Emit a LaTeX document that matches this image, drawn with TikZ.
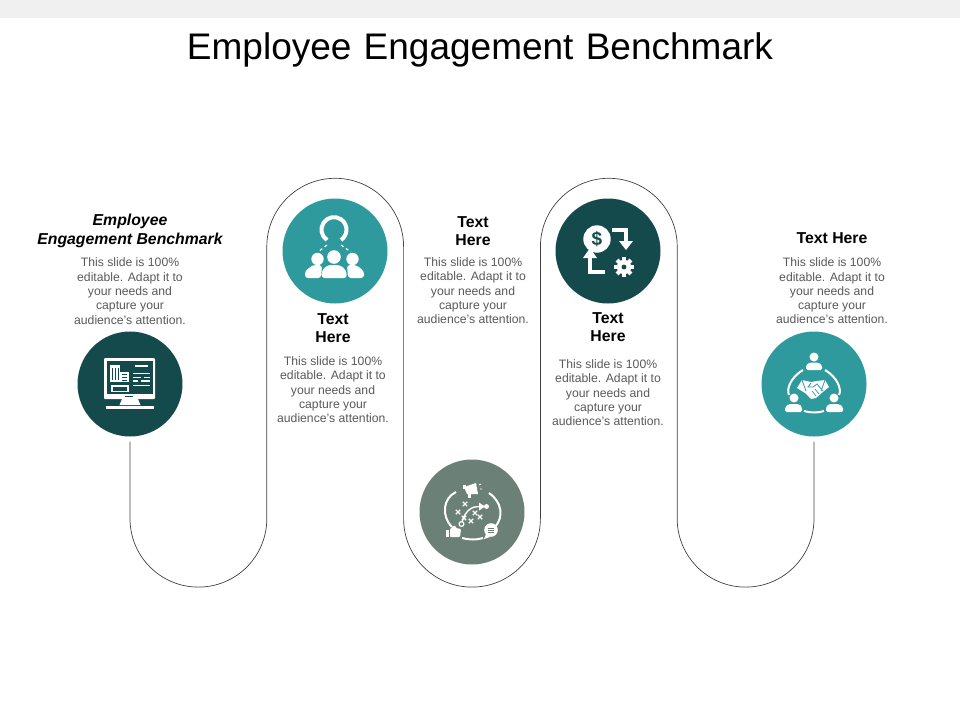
\documentclass[tikz,border=0pt]{standalone}
\usepackage{fontspec}
\setmainfont{Liberation Sans}
\usetikzlibrary{positioning}
\definecolor{darkci}{HTML}{154A4C}
\definecolor{tealci}{HTML}{2E9A9E}
\definecolor{greyci}{HTML}{6B8178}
\definecolor{bodygrey}{HTML}{595959}
\tikzset{
  node distance=14pt,
  every node/.style={align=center}
}
\newcommand{\blurb}{This slide is 100\%\\editable. Adapt it to\\your needs and\\capture your\\audience's attention.}

\begin{document}
\begin{tikzpicture}[x=1pt, y=-1pt]
\tikzstyle{ci}=[circle, minimum size=105pt, inner sep=0pt]
\tikzstyle{dark_ci}=[ci, fill=darkci]
\tikzstyle{teal_ci}=[ci, fill=tealci]
\tikzstyle{grey_ci}=[ci, fill=greyci]
\tikzstyle{track}=[draw=black!75, line width=0.7pt]
\tikzstyle{title}=[font=\fontsize{37pt}{40pt}\selectfont, text=black, inner sep=0pt]
\tikzstyle{heading}=[font=\fontsize{15.8pt}{18.4pt}\selectfont\bfseries, text=black, inner sep=0pt]
\tikzstyle{blurbtxt}=[font=\fontsize{12.2pt}{14.3pt}\selectfont, text=bodygrey, inner sep=0pt]
\tikzstyle{wline}=[draw=white, line width=1.6pt]
\tikzstyle{wring}=[draw=white, line width=2pt]
\tikzstyle{wfill}=[fill=white]

\useasboundingbox (0,0) rectangle (960,720);
\fill[black!6] (0,0) rectangle (960,18);
\node[title](title) at (480,50){Employee\hspace{2pt} Engagement\hspace{2pt} Benchmark};

% circles
\node[dark_ci](ci1) at (130,384){};
\node[teal_ci](ci2) at (335,251){};
\node[grey_ci](ci3) at (472,512){};
\node[dark_ci](ci4) at (608,251){};
\node[teal_ci](ci5) at (814,384){};

% the winding line
\draw[track] ([yshift=-5pt]ci1.south) -- ++(0,77)
  arc[start angle=180, end angle=0, radius=68.4] -- ++(0,-272)
  arc[start angle=180, end angle=360, radius=68.4] -- ++(0,272)
  arc[start angle=180, end angle=0, radius=68.4] -- ++(0,-272)
  arc[start angle=180, end angle=360, radius=68.4] -- ++(0,272)
  arc[start angle=180, end angle=0, radius=68.4] -- ([yshift=-5pt]ci5.south);

% texts
\node[heading, font=\fontsize{15.8pt}{18.4pt}\selectfont\bfseries\itshape](head1) at (130,231){Employee\\Engagement Benchmark};
\node[blurbtxt, below=10pt of head1](txt1){\blurb};
\node[heading](head2) at (333,328){Text\\Here};
\node[blurbtxt, below=13.5pt of head2](txt2){\blurb};
\node[heading](head3) at (473,231){Text\\Here};
\node[blurbtxt, below=11.5pt of head3](txt3){\blurb};
\node[heading](head4) at (608,327){Text\\Here};
\node[blurbtxt, below=17.5pt of head4](txt4){\blurb};
\node[heading](head5) at (832,238){Text Here};
\node[blurbtxt, below=14pt of head5](txt5){\blurb};

% monitor
\begin{scope}[shift={(ci1.center)}]
\fill[wfill, rounded corners=1pt] (-26,-26) rectangle (25,15);
\fill[darkci] (-23.5,-23.5) rectangle (22.5,10);
\fill[darkci] (-5,11.5) rectangle (3,13);
\fill[wfill] (-8,15) -- (8,15) -- (10.5,21) -- (-10.5,21) -- cycle;
\fill[wfill] (-24,21.5) rectangle (23.5,25);
\fill[wfill] (-20,-19) rectangle (-10.5,-2);
\fill[wfill] (-10,-12) rectangle (-1,-2);
\foreach \x in {-18,-15,-12.5}{\fill[darkci] (\x,-16) rectangle ++(1,12);}
\foreach \y in {-10,-7,-4.5}{\fill[darkci] (-8,\y) rectangle ++(5,1);}
\draw[wline] (-18,2) rectangle (-2,7.5);
\draw[wline] (5,-18) -- (18,-18);
\draw[wline] (3,-10.5) -- (20,-10.5);
\draw[wline] (3,-6.5) -- (11,-6.5) (14,-6.5) -- (20,-6.5);
\draw[wline] (3,-3) -- (8,-3) (11,-3) -- (20,-3);
\draw[wline] (3,1.5) -- (20,1.5);
\end{scope}

% people under a magnet
\begin{scope}[shift={(ci2.center)}]
\draw[white, line width=4pt] (-8,-11) arc[start angle=124, end angle=416, radius=12.5];
\draw[white, line width=1.2pt, dashed] (-8,-6) -- (-17,1);
\draw[white, line width=1.2pt, dashed] (6,-6) -- (16,1);
\fill[wfill] (-17.5,8) circle[radius=6.2];
\fill[wfill] (17.5,8) circle[radius=6.2];
\fill[wfill] (-1,6) circle[radius=6.8];
\fill[wfill, rounded corners=3pt] (-30,27) -- (-30,20) -- (-22,14) -- (-13,14) -- (-14,27) -- cycle;
\fill[wfill, rounded corners=3pt] (29,27) -- (29,20) -- (21,14) -- (12,14) -- (13,27) -- cycle;
\fill[wfill, rounded corners=3pt] (-13.5,27) -- (-13,19) -- (-7,14) -- (5,14) -- (11,19) -- (12,27) -- cycle;
\end{scope}

% plan with thumb and speech bubble
\begin{scope}[shift={(ci3.center)}]
\draw[wring] (-20,15) .. controls (-31,4) and (-29,-14) .. (-16,-20);
\draw[wring] (17,-19) .. controls (30,-10) and (32,5) .. (23,15);
\draw[wring] (-10,26) .. controls (-3,28) and (5,28) .. (11,26);
\fill[wfill] (-8,-25) -- (4,-29) -- (6,-18) -- (-5,-18) -- cycle;
\fill[wfill] (-9,-27) rectangle (-6,-23);
\fill[wfill] (-4,-18) rectangle (-1,-14);
\draw[white, line width=0.8pt] (7,-27) -- (9,-28) (8,-23) -- (10,-23);
\draw[white, line width=1.4pt] (-10,10) .. controls (-7,-1) and (0,-6) .. (7,-5.5);
\fill[wfill] (7,-9.5) -- (13,-5.5) -- (7,-1.5) -- cycle;
\draw[white, line width=1.2pt] (-10.5,12) circle[radius=2.4];
\fill[wfill] (14.5,-5.5) circle[radius=2.5];
\foreach \x/\y in {-7/-8, -14/0, -8/6, -1/9, 8/5, 3/1}{
  \draw[white, line width=1.2pt] (\x-2.2,\y-2.2) -- (\x+2.2,\y+2.2) (\x-2.2,\y+2.2) -- (\x+2.2,\y-2.2);
}
\fill[wfill] (-26,18) rectangle (-23,25);
\fill[wfill, rounded corners=1pt] (-22,25) -- (-22,17) -- (-17,13) -- (-16,16) -- (-11,17) -- (-12,25) -- cycle;
\fill[wfill] (19,18) circle[radius=6.8];
\fill[wfill] (14,22) -- (12,27) -- (18,25) -- cycle;
\foreach \y in {16,18,20}{\draw[greyci, line width=0.7pt] (16,\y) -- (22,\y);}
\end{scope}

% money and process
\begin{scope}[shift={(ci4.center)}]
\fill[wfill] (-11,-12) circle[radius=13.7];
\node[font=\fontsize{19pt}{19pt}\selectfont\bfseries, text=darkci, inner sep=0pt](dollar) at (-11,-12){\$};
\draw[white, line width=3.2pt] (4,-21) -- (18,-21) -- (18,-10);
\fill[wfill] (11,-10) -- (25,-10) -- (18,-1) -- cycle;
\draw[white, line width=3.2pt] (-3,21) -- (-18,21) -- (-18,7);
\fill[wfill] (-25,7) -- (-11,7) -- (-18,-3) -- cycle;
\foreach \a in {0,45,...,135}{
  \fill[wfill, shift={(16,16)}, rotate=\a] (-2.1,-9.8) rectangle (2.1,9.8);
}
\fill[wfill] (16,16) circle[radius=7.2];
\fill[darkci] (16,16) circle[radius=2.4];
\end{scope}

% handshake in a circle of people
\begin{scope}[shift={(ci5.center)}]
\draw[wring] (-11,-14) .. controls (-23,-7) and (-28,5) .. (-25,11);
\draw[wring] (11,-14) .. controls (23,-7) and (28,5) .. (25,11);
\draw[wring] (-10,27) .. controls (-3,29) and (4,29) .. (10,27);
\fill[wfill] (0,-27) circle[radius=4.5];
\fill[wfill] (-20,14) circle[radius=4.5];
\fill[wfill] (20,14) circle[radius=4.5];
\fill[wfill, rounded corners=1.5pt] (-8,-14) -- (-8,-19) -- (-4,-21.5) -- (4,-21.5) -- (8,-19) -- (8,-14) -- cycle;
\fill[wfill, rounded corners=1.5pt] (-29,28) -- (-29,23) -- (-25,20) -- (-15,20) -- (-12,23) -- (-12,28) -- cycle;
\fill[wfill, rounded corners=1.5pt] (12,28) -- (12,23) -- (15,20) -- (25,20) -- (29,23) -- (29,28) -- cycle;
\fill[wfill] (-17,4) -- (-12,-4) -- (-3,-2) -- (3,-3) -- (11,-4) -- (15,3) -- (10,7) -- (2,14) -- (-3,15) -- (-9,9) -- cycle;
\draw[tealci, line width=0.8pt] (-12,-4) -- (-8,7);
\draw[tealci, line width=0.8pt] (11,-4) -- (7,7);
\draw[tealci, line width=0.8pt] (-3,-1) -- (-6,3) -- (-1,3) -- (3,0) -- (9,7);
\draw[tealci, line width=0.7pt] (1,5) -- (5,10) (-2,7) -- (2,12);
\end{scope}
\end{tikzpicture}
\end{document}
